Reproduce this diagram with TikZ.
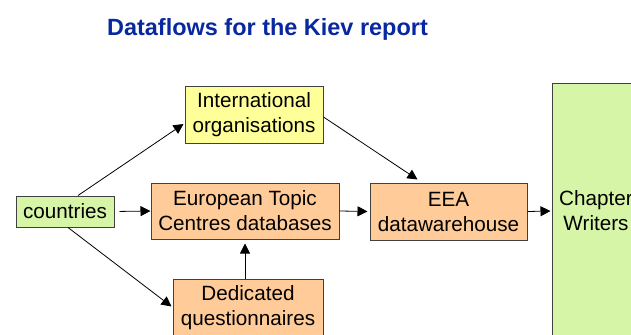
\documentclass[tikz,border=0pt]{standalone}
\usepackage{fontspec}
\setmainfont{Liberation Sans}
\usetikzlibrary{calc,arrows.meta}
\definecolor{titleblue}{RGB}{8,40,160}
\definecolor{boxyellow}{RGB}{255,255,153}
\definecolor{boxorange}{RGB}{255,204,153}
\definecolor{boxgreen}{RGB}{214,245,166}
\definecolor{boxline}{RGB}{64,64,64}
\tikzset{
  box/.style={draw=boxline, line width=0.75pt, align=center, inner sep=0pt,
    font=\fontsize{15.5}{18.75}\selectfont},
  flow/.style={draw=black, line width=0.6pt, -{Triangle[length=7.5pt,width=7.5pt]}}
}
\begin{document}
\begin{tikzpicture}[x=0.75pt,y=-0.75pt]
\useasboundingbox (0,0) rectangle (631,335);
\clip (0,0) rectangle (631,335);
\node[font=\fontsize{17.6}{21}\selectfont\bfseries, text=titleblue] (title) at (267.5,29) {Dataflows for the Kiev report};
\node[box, fill=boxyellow, minimum width=103.5pt, minimum height=42.75pt] (intl) at (254,114.5) {International\\organisations};
\node[box, fill=boxgreen, minimum width=73.5pt, minimum height=23.25pt] (countries) at (65,211.5) {countries};
\node[box, fill=boxorange, minimum width=141pt, minimum height=42pt] (etc) at (245,211) {European Topic\\Centres databases};
\node[box, fill=boxorange, minimum width=112.5pt, minimum height=42.75pt] (dq) at (248,307.5) {Dedicated\\questionnaires};
\node[box, fill=boxorange, minimum width=117.75pt, minimum height=42.75pt] (eea) at (448.5,211.5) {EEA\\datawarehouse};
\node[box, fill=boxgreen, minimum width=66pt, minimum height=192pt] (chap) at (596,211) {Chapter\\Writers};
\draw[flow] ($(countries.north)+(13,0)$) -- ($(intl.west)+(-1,9.5)$);
\draw[flow, shorten <=3.75pt] (countries.east) -- (etc.west);
\draw[flow] ($(countries.south)+(3,0)$) -- ($(dq.west)+(-1,-1)$);
\draw[flow, shorten >=3pt] (dq.north -| etc.south) -- (etc.south);
\draw[flow] ($(intl.east)+(0,2.5)$) -- ($(eea.north)+(-31,-3)$);
\draw[flow, shorten >=1.5pt] (etc.east) -- (eea.west);
\draw[flow, shorten >=0.75pt] (eea.east) -- (chap.west);
\end{tikzpicture}
\end{document}
